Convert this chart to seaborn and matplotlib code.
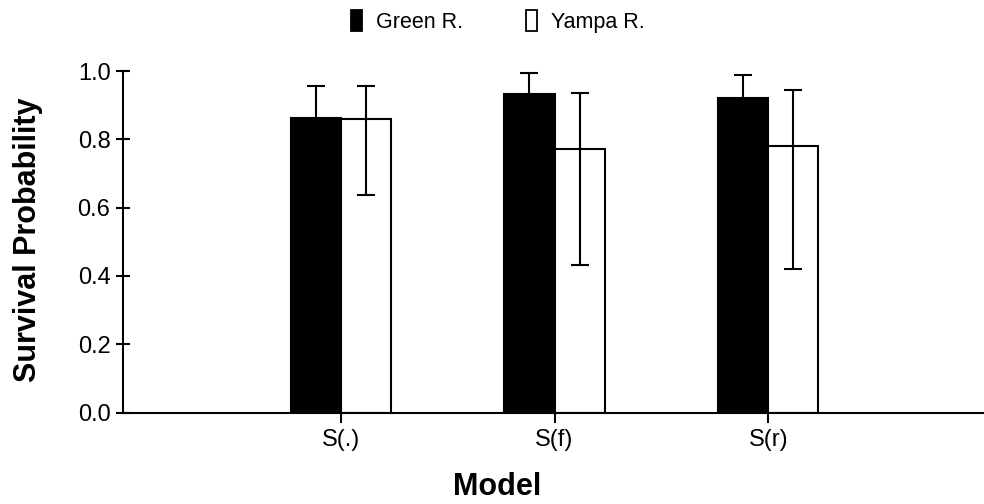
import matplotlib
matplotlib.use("Agg")
import matplotlib.pyplot as plt
import matplotlib.patches as mpatches
import numpy as np
import pandas as pd
import seaborn as sns

models = ["S(.)", "S(f)", "S(r)"]
rivers = ["Green R.", "Yampa R."]
green_est = [0.864, 0.932, 0.921]
green_lo = [0.772, 0.869, 0.854]
green_hi = [0.956, 0.995, 0.988]
yampa_est = [0.860, 0.773, 0.781]
yampa_lo = [0.636, 0.431, 0.421]
yampa_hi = [0.956, 0.937, 0.946]
colors = ["black", "white"]

sns.set_theme(style="ticks")
plt.rcParams["font.family"] = ["Liberation Sans", "DejaVu Sans"]
plt.rcParams["text.color"] = "black"
plt.rcParams["axes.labelcolor"] = "black"
plt.rcParams["xtick.color"] = "black"
plt.rcParams["ytick.color"] = "black"

df = pd.DataFrame({
    "Model": models * 2,
    "River": [rivers[0]] * 3 + [rivers[1]] * 3,
    "Survival": green_est + yampa_est,
})

fig = plt.figure(figsize=(9.84, 5.04), dpi=100)
ax = fig.add_axes([0.125, 0.1815, 0.875, 0.6775])

sns.barplot(data=df, x="Model", y="Survival", hue="River", order=models,
            hue_order=rivers, palette=colors, saturation=1, edgecolor="black",
            linewidth=1.5, width=0.47, errorbar=None, ax=ax)

for cont, lo, hi in zip(ax.containers, [green_lo, yampa_lo], [green_hi, yampa_hi]):
    xs = np.array([b.get_x() + b.get_width() / 2 for b in cont])
    ys = np.array([b.get_height() for b in cont])
    ax.errorbar(xs, ys, yerr=[ys - np.array(lo), np.array(hi) - ys], fmt="none",
                ecolor="black", elinewidth=1.5, capsize=6.5, capthick=1.5, zorder=5)

leg = ax.get_legend()
if leg is not None:
    leg.remove()
handles = [mpatches.Patch(facecolor=c, edgecolor="black", linewidth=1.3) for c in colors]
fig.legend(handles, rivers, loc="center", bbox_to_anchor=(0.506, 0.958),
           ncol=2, frameon=False, fontsize=15.5, handlelength=0.52,
           handleheight=1.13, handletextpad=0.65, columnspacing=2.9)

ax.set_ylim(0, 1.0)
ax.set_xlim(-1.02, 3.01)
ax.set_yticks([0.0, 0.2, 0.4, 0.6, 0.8, 1.0])
ax.set_yticklabels(["0.0", "0.2", "0.4", "0.6", "0.8", "1.0"])
sns.despine(ax=ax)
for s in ["left", "bottom"]:
    ax.spines[s].set_linewidth(1.5)
    ax.spines[s].set_color("black")
ax.tick_params(axis="y", direction="inout", length=10, width=1.5, labelsize=17,
               pad=4, colors="black")
ax.tick_params(axis="x", direction="out", length=7, width=1.5, labelsize=17,
               pad=5, colors="black")

ax.set_xlabel("Model", fontsize=22, fontweight="bold")
ax.set_ylabel("Survival Probability", fontsize=22, fontweight="bold")
ax.xaxis.set_label_coords(0.434, -0.175)
ax.yaxis.set_label_coords(-0.093, 0.505)

fig.savefig("out.png", dpi=100)
